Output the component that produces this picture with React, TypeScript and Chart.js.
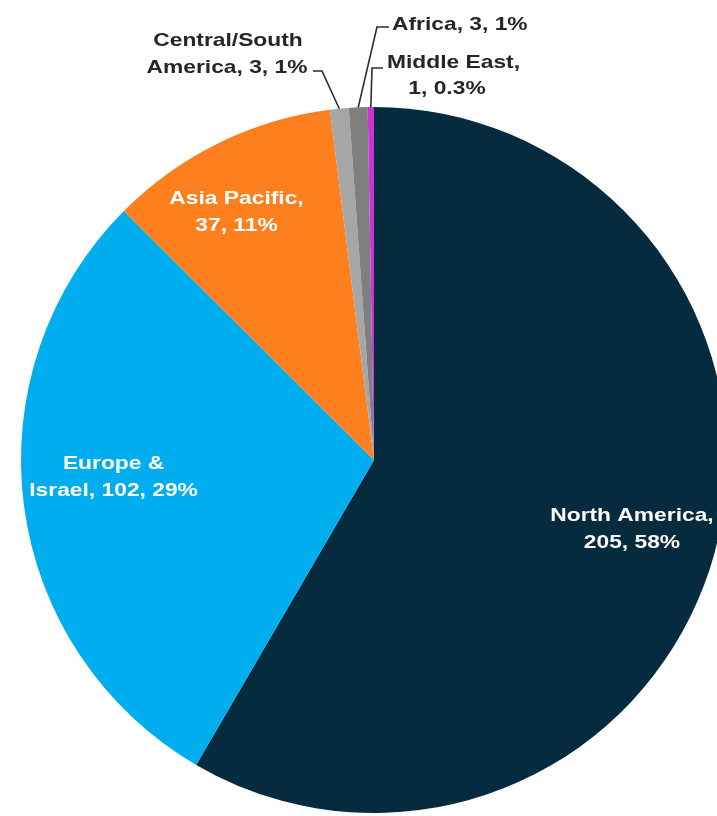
import { useEffect, useRef } from "react";
import { Chart, registerables } from "chart.js";

Chart.register(...registerables);

// ---- data ----
const regions = [
  "North America",
  "Europe & Israel",
  "Asia Pacific",
  "Central/South America",
  "Africa",
  "Middle East",
];
const counts = [205, 102, 37, 3, 3, 1];
const percentLabels = ["58%", "29%", "11%", "1%", "1%", "0.3%"];
const labelLines = [
  ["North America,", "205, 58%"],
  ["Europe &", "Israel, 102, 29%"],
  ["Asia Pacific,", "37, 11%"],
  ["Central/South", "America, 3, 1%"],
  ["Africa, 3, 1%"],
  ["Middle East,", "1, 0.3%"],
];
const sliceColors = ["#062A3E", "#00AEEF", "#FD7F1E", "#A6A6A6", "#7F7F7F", "#C935D4"];

// ---- label layout (annotation only) ----
type Inner = { kind: "inner"; frac: number; dx: number; dy: number };
type Outer = {
  kind: "outer";
  path: [number, number][]; // leader line after the slice edge point
  lines: { x: number; y: number; align: CanvasTextAlign }[];
};
const labelLayout: (Inner | Outer)[] = [
  { kind: "inner", frac: 0.757, dx: 0, dy: 0 },
  { kind: "inner", frac: 0.744, dx: 0, dy: -17 },
  { kind: "inner", frac: 0.8, dx: -13, dy: 6 },
  {
    kind: "outer",
    path: [
      [322, 71],
      [313, 71],
    ],
    lines: [
      { x: 228, y: 41, align: "center" },
      { x: 227, y: 68, align: "center" },
    ],
  },
  {
    kind: "outer",
    path: [
      [377, 27],
      [389, 27],
    ],
    lines: [{ x: 392, y: 25, align: "left" }],
  },
  {
    kind: "outer",
    path: [
      [372, 68],
      [383, 68],
    ],
    lines: [
      { x: 387, y: 63, align: "left" },
      { x: 447, y: 89, align: "center" },
    ],
  },
];

const FONT = 'bold 19px "Liberation Sans", Arial, sans-serif';
const STRETCH = 1.2;

function drawText(ctx: CanvasRenderingContext2D, text: string, x: number, y: number, align: CanvasTextAlign) {
  ctx.save();
  ctx.translate(x, y);
  ctx.scale(STRETCH, 1);
  ctx.textAlign = align;
  ctx.textBaseline = "middle";
  ctx.fillText(text, 0, 0);
  ctx.restore();
}

const labelPlugin = {
  id: "sliceLabels",
  afterDatasetsDraw(chart: any) {
    const ctx: CanvasRenderingContext2D = chart.ctx;
    const meta = chart.getDatasetMeta(0);
    ctx.save();
    ctx.font = FONT;
    meta.data.forEach((arc: any, i: number) => {
      const { x, y, startAngle, endAngle, outerRadius } = arc.getProps(
        ["x", "y", "startAngle", "endAngle", "outerRadius"],
        true
      );
      const mid = (startAngle + endAngle) / 2;
      const layout = labelLayout[i];
      const lines = labelLines[i];
      if (layout.kind === "inner") {
        const cx = x + Math.cos(mid) * outerRadius * layout.frac + layout.dx;
        const cy = y + Math.sin(mid) * outerRadius * layout.frac + layout.dy;
        ctx.fillStyle = "#FFFFFF";
        const lh = 27;
        lines.forEach((t, k) => {
          drawText(ctx, t, cx, cy + (k - (lines.length - 1) / 2) * lh, "center");
        });
      } else {
        const ex = x + Math.cos(mid) * outerRadius;
        const ey = y + Math.sin(mid) * outerRadius;
        ctx.strokeStyle = "#2B2B2B";
        ctx.lineWidth = 1.6;
        ctx.beginPath();
        ctx.moveTo(ex, ey);
        layout.path.forEach(([px, py]) => ctx.lineTo(px, py));
        ctx.stroke();
        ctx.fillStyle = "#262626";
        lines.forEach((t, k) => {
          const p = layout.lines[k];
          drawText(ctx, t, p.x, p.y, p.align);
        });
      }
    });
    ctx.restore();
  },
};

export default function App() {
  const canvasRef = useRef<HTMLCanvasElement | null>(null);

  useEffect(() => {
    if (!canvasRef.current) return;
    const chart = new Chart(canvasRef.current, {
      type: "pie",
      data: {
        labels: regions,
        datasets: [
          {
            data: counts,
            backgroundColor: sliceColors,
            borderWidth: 0,
          },
        ],
      },
      options: {
        responsive: false,
        animation: false,
        layout: { padding: { top: 107, bottom: 3, left: 0, right: 0 } },
        plugins: {
          legend: { display: false },
          tooltip: { enabled: false },
          title: { display: false },
        },
      },
      plugins: [labelPlugin],
    });
    return () => chart.destroy();
  }, []);

  return (
    <div
      style={{
        position: "fixed",
        left: 0,
        top: 0,
        width: 717,
        height: 816,
        overflow: "hidden",
        background: "#FFFFFF",
      }}
      data-percents={percentLabels.join(",")}
    >
      <canvas ref={canvasRef} width={748} height={816} style={{ width: 748, height: 816, display: "block" }} />
    </div>
  );
}
